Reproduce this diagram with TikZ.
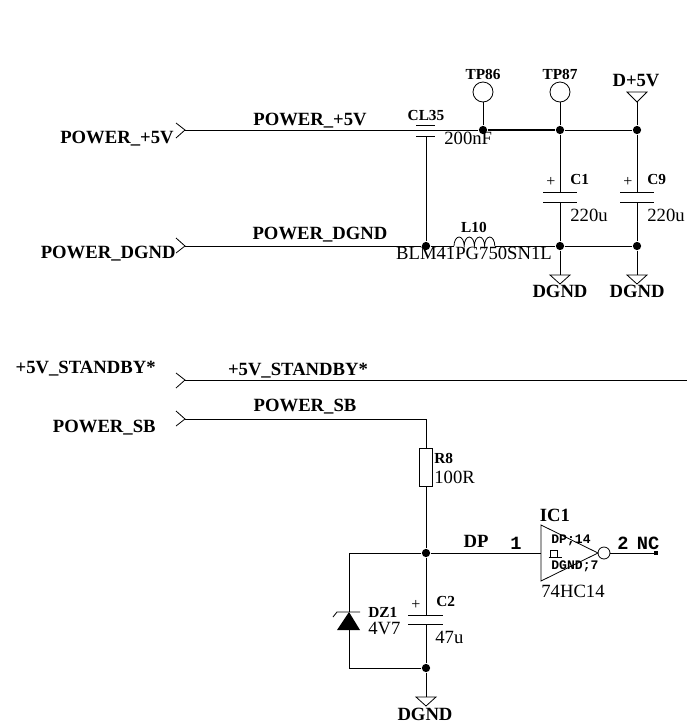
\documentclass[tikz,border=0pt]{standalone}
\usepackage{fontspec}
\setmainfont{Liberation Serif}
\newfontfamily\pinfont{Liberation Mono}
\usetikzlibrary{arrows.meta}

\begin{document}
\begin{tikzpicture}[x=0.75pt,y=-0.75pt,line width=0.6pt,
    netlabel/.style={font=\fontsize{14}{14}\selectfont\bfseries,inner sep=0pt},
    reflabel/.style={font=\fontsize{11.5}{12}\selectfont\bfseries,inner sep=0pt},
    vallabel/.style={font=\fontsize{14}{14}\selectfont,inner sep=0pt},
    pinlabel/.style={font=\fontsize{14}{14}\selectfont\pinfont\bfseries,inner sep=0pt},
    powerlabel/.style={font=\fontsize{9.8}{10}\selectfont\pinfont\bfseries,inner sep=0pt},
    pluslabel/.style={font=\fontsize{12}{12}\selectfont,inner sep=0pt},
    junction/.style={circle,fill=black,inner sep=0pt,minimum size=6.2pt},
    testpoint/.style={circle,draw,inner sep=0pt,minimum size=15pt},
    plate/.style={line width=0.6pt},
    hump/.style={start angle=180,end angle=360,x radius=5.1,y radius=9}]
    \useasboundingbox (0,0) rectangle (687,726);

    % Power input
    \coordinate (inA) at (185,130);
    \coordinate (inB) at (185,246);
    \draw (176,123) -- (inA) -- (176,138);
    \draw (176,238) -- (inB) -- (176,253);
    \node[netlabel,anchor=base east] (lblA) at (174,143) {POWER\_+5V};
    \node[netlabel,anchor=base east] (lblB) at (176,258) {POWER\_DGND};
    \node[netlabel,anchor=base] (netA) at (310,125) {POWER\_+5V};
    \node[netlabel,anchor=base] (netB) at (320,239) {POWER\_DGND};

    \node[junction] (j1) at (483,130) {};
    \node[junction] (j2) at (560,130) {};
    \node[junction] (j3) at (637,130) {};
    \node[junction] (j4) at (426,246) {};
    \node[junction] (j5) at (560,246) {};
    \node[junction] (j6) at (637,246) {};
    \draw (inA) -- (j1);
    \draw[line width=0.9pt] (j1) -- (j2);
    \draw (j2) -- (j3);

    % CL35
    \coordinate (cl35b) at (426,136);
    \draw[plate] (416,125) -- (435,125);
    \draw[plate] (416,136) -- (435,136);
    \draw (cl35b) -- (j4);
    \node[reflabel,anchor=base] (cl35) at (426,120) {CL35};
    \node[vallabel,anchor=base west] (cl35v) at (444,144) {200nF};

    % L10
    \coordinate (l10a) at (454,246);
    \coordinate (l10b) at (495,246);
    \draw (inB) -- (j4) -- (l10a);
    \draw (l10a) arc[hump] arc[hump] arc[hump] arc[hump];
    \draw (l10b) -- (j5) -- (j6);
    \node[reflabel,anchor=base] (l10) at (474,232) {L10};
    \node[vallabel,anchor=base] (l10v) at (474,259) {BLM41PG750SN1L};

    % Test points
    \foreach \tp/\x/\name in {tpa/483/TP86,tpb/560/TP87} {
        \node[testpoint] (\tp) at (\x,92) {};
        \node[reflabel,anchor=base] at (\x,79) {\name};
    }
    \draw (tpa) -- (j1);
    \draw (tpb) -- (j2);

    % D+5V
    \coordinate (vcc) at (637,102);
    \draw (627,92) -- (647,92) -- (vcc) -- cycle;
    \draw (vcc) -- (j3);
    \node[netlabel,anchor=base] (vccl) at (636,86) {D+5V};

    % C1, C9
    \foreach \c/\x/\jt/\jb/\name in {ca/560/j2/j5/C1,cb/637/j3/j6/C9} {
        \coordinate (\c t) at (\x,192);
        \coordinate (\c b) at (\x,202);
        \coordinate (\c g) at (\x,275);
        \draw (\jt) -- (\c t);
        \draw (\c b) -- (\jb) -- (\c g);
        \draw[plate] (\x-17,192) -- (\x+17,192);
        \draw[plate] (\x-17,202) -- (\x+17,202);
        \draw (\x-10,275) -- (\x+10,275) -- (\x,284) -- cycle;
        \node[pluslabel] at (\x-9,182) {+};
        \node[reflabel,anchor=base west] at (\x+10,184) {\name};
        \node[vallabel,anchor=base west] at (\x+10,221) {220u};
        \node[netlabel,anchor=base] at (\x,297) {DGND};
    }

    % Standby
    \coordinate (inC) at (185,380);
    \coordinate (endC) at (687,380);
    \coordinate (inD) at (185,419);
    \draw (176,373) -- (inC) -- (176,388);
    \draw (176,411) -- (inD) -- (176,426);
    \draw (inC) -- (endC);
    \node[netlabel,anchor=base east] (lblC) at (156,373) {+5V\_STANDBY*};
    \node[netlabel,anchor=base east] (lblD) at (156,432) {POWER\_SB};
    \node[netlabel,anchor=base] (netC) at (298,375) {+5V\_STANDBY*};
    \node[netlabel,anchor=base] (netD) at (305,411) {POWER\_SB};

    % R8
    \node[draw,minimum width=9.5pt,minimum height=28.5pt,inner sep=0pt] (r8) at (426,467) {};
    \coordinate (bend) at (426,419);
    \draw (inD) -- (bend) -- (r8);
    \node[reflabel,anchor=base west] (r8l) at (434,463) {R8};
    \node[vallabel,anchor=base west] (r8v) at (434,483) {100R};

    % DP
    \node[junction] (j7) at (426,553) {};
    \node[junction] (j8) at (426,668) {};
    \draw (r8) -- (j7);
    \coordinate (icin) at (541,553);
    \draw (j7) -- (icin);
    \node[netlabel,anchor=base] (dp) at (476,547) {DP};
    \node[pinlabel,anchor=base] (pin1) at (516,549) {1};

    % IC1
    \draw (541,525) -- (598,553) -- (541,581) -- cycle;
    \node[circle,draw,inner sep=0pt,minimum size=9pt] (bub) at (604,553) {};
    \coordinate (nc) at (656,553);
    \draw (bub) -- (nc);
    \fill (654,551) rectangle (658,555);
    \node[netlabel,anchor=base] (ic1) at (555,521) {IC1};
    \node[powerlabel,anchor=base west] (pwa) at (551,543) {DP;14};
    \node[powerlabel,anchor=base west] (pwb) at (551,569) {DGND;7};
    \draw[line width=0.45pt] (550.5,557) -- (550.5,550) -- (557,550) -- (557,557) (548.5,557) -- (561.5,557);
    \node[vallabel,anchor=base west] (ic1v) at (541,597) {74HC14};
    \node[pinlabel,anchor=base] (pin2) at (623,549) {2};
    \node[pinlabel,anchor=base] (ncl) at (648,549) {NC};

    % C2
    \coordinate (c2t) at (426,615);
    \coordinate (c2b) at (426,624);
    \coordinate (c2g) at (426,697);
    \draw (j7) -- (c2t);
    \draw (c2b) -- (j8) -- (c2g);
    \draw[plate] (408,615) -- (443,615);
    \draw[plate] (408,624) -- (443,624);
    \node[pluslabel] (c2p) at (416,605) {+};
    \node[reflabel,anchor=base west] (c2l) at (436,606) {C2};
    \node[vallabel,anchor=base west] (c2v) at (435,643) {47u};
    \draw (416,697) -- (436,697) -- (426,706) -- cycle;
    \node[netlabel,anchor=base] (gndc) at (425,720) {DGND};

    % DZ1
    \coordinate (dzc) at (349,553);
    \coordinate (dza) at (349,668);
    \draw (j7) -- (dzc) -- (349,612);
    \draw (349,630) -- (dza) -- (j8);
    \fill (349,612) -- (360,630) -- (337,630) -- cycle;
    \draw (333,617) -- (337,612) -- (360,612);
    \node[reflabel,anchor=base west] (dz1) at (368,617) {DZ1};
    \node[vallabel,anchor=base west] (dz1v) at (368,634) {4V7};
\end{tikzpicture}
\end{document}
